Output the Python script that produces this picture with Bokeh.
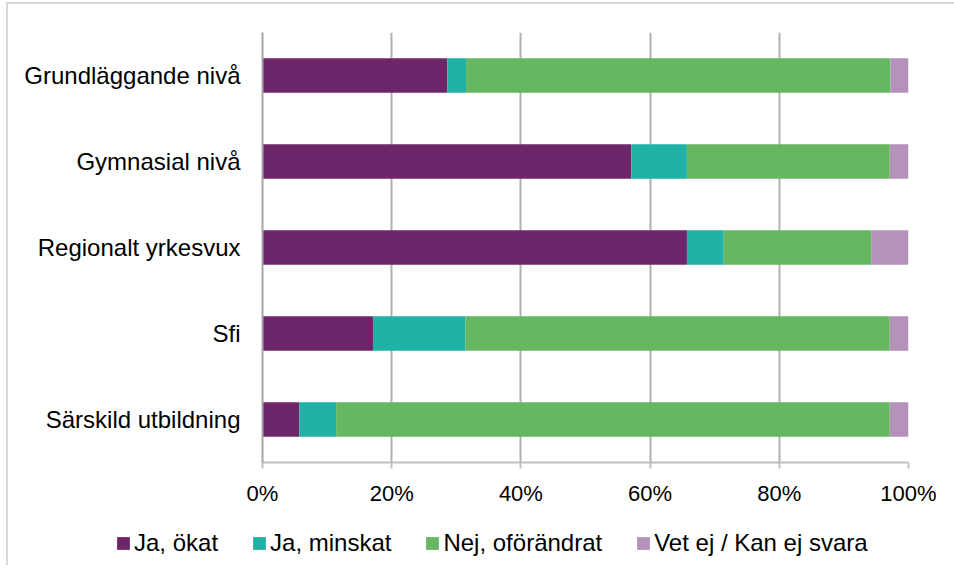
from bokeh.plotting import figure
from bokeh.layouts import column, row
from bokeh.models import FactorRange, Range1d, FixedTicker, NumeralTickFormatter, Legend
from bokeh.embed import file_html
from bokeh.resources import INLINE

categories = ["Grundläggande nivå", "Gymnasial nivå", "Regionalt yrkesvux", "Sfi", "Särskild utbildning"]
series = ["Ja, ökat", "Ja, minskat", "Nej, oförändrat", "Vet ej / Kan ej svara"]
ja_okat = [0.286, 0.571, 0.657, 0.171, 0.057]
ja_minskat = [0.029, 0.086, 0.057, 0.143, 0.057]
nej_oforandrat = [0.657, 0.314, 0.229, 0.657, 0.857]
vet_ej = [0.029, 0.029, 0.057, 0.029, 0.029]
x_ticks = [0, 0.2, 0.4, 0.6, 0.8, 1.0]
colors = ["#6C2669", "#22B1A6", "#67B662", "#B592BA"]

data = {"cat": categories, series[0]: ja_okat, series[1]: ja_minskat,
        series[2]: nej_oforandrat, series[3]: vet_ej}

FONT = "Liberation Sans"

p = figure(width=946, height=514, output_backend="svg", toolbar_location=None,
           y_range=FactorRange(*reversed(categories)), x_range=Range1d(0, 1),
           min_border_left=254, min_border_right=46, min_border_top=28, min_border_bottom=56)

rs = p.hbar_stack(series, y="cat", height=0.4, color=colors, source=data, line_color=None)

p.outline_line_color = None
p.ygrid.grid_line_color = None
p.xgrid.grid_line_color = "#b0b0b0"
p.xgrid.grid_line_width = 2
p.xaxis.ticker = FixedTicker(ticks=x_ticks)
p.xaxis.formatter = NumeralTickFormatter(format="0%")
p.xaxis.axis_line_color = "#bfbfbf"
p.xaxis.axis_line_width = 2
p.xaxis.major_tick_line_color = "#bfbfbf"
p.xaxis.major_tick_line_width = 2
p.xaxis.major_tick_out = 6
p.xaxis.major_tick_in = 0
p.xaxis.minor_tick_line_color = None
p.xaxis.major_label_standoff = 12
p.xaxis.major_label_text_font = FONT
p.xaxis.major_label_text_font_size = "22px"
p.xaxis.major_label_text_color = "#000000"

p.yaxis.axis_line_color = "#a6a6a6"
p.yaxis.axis_line_width = 2
p.yaxis.major_tick_line_color = None
p.yaxis.minor_tick_line_color = None
p.yaxis.major_label_standoff = 16
p.yaxis.major_label_text_font = FONT
p.yaxis.major_label_text_font_size = "24px"
p.yaxis.major_label_text_color = "#000000"

# Legend in a separate strip below the chart (its renderers map to no visible factor)
pl = figure(width=946, height=47, output_backend="svg", toolbar_location=None,
            x_range=Range1d(0, 1), y_range=FactorRange("legend"),
            x_axis_type=None, y_axis_type=None,
            min_border_left=0, min_border_right=0, min_border_top=0, min_border_bottom=0)
pl.outline_line_color = None
pl.grid.visible = False
lrs = [pl.hbar(y="cat", right=s, height=0.4, color=c, line_color=None, source=data)
       for s, c in zip(series, colors)]

legend = Legend(items=[(s, [r]) for s, r in zip(series, lrs)], orientation="horizontal",
                location=(107, 8), padding=0, margin=0, spacing=33,
                glyph_width=16, glyph_height=16, label_standoff=3,
                label_text_font=FONT, label_text_font_size="24px", label_text_color="#000000",
                border_line_color=None, background_fill_alpha=0)
pl.add_layout(legend, "center")

layout = column(p, row(pl), spacing=0)
layout.styles = {"margin-left": "6px", "margin-top": "2px",
                 "border-left": "2px solid #d9d9d9", "border-top": "2px solid #d9d9d9"}
open("out.html", "w").write(file_html(layout, INLINE))
